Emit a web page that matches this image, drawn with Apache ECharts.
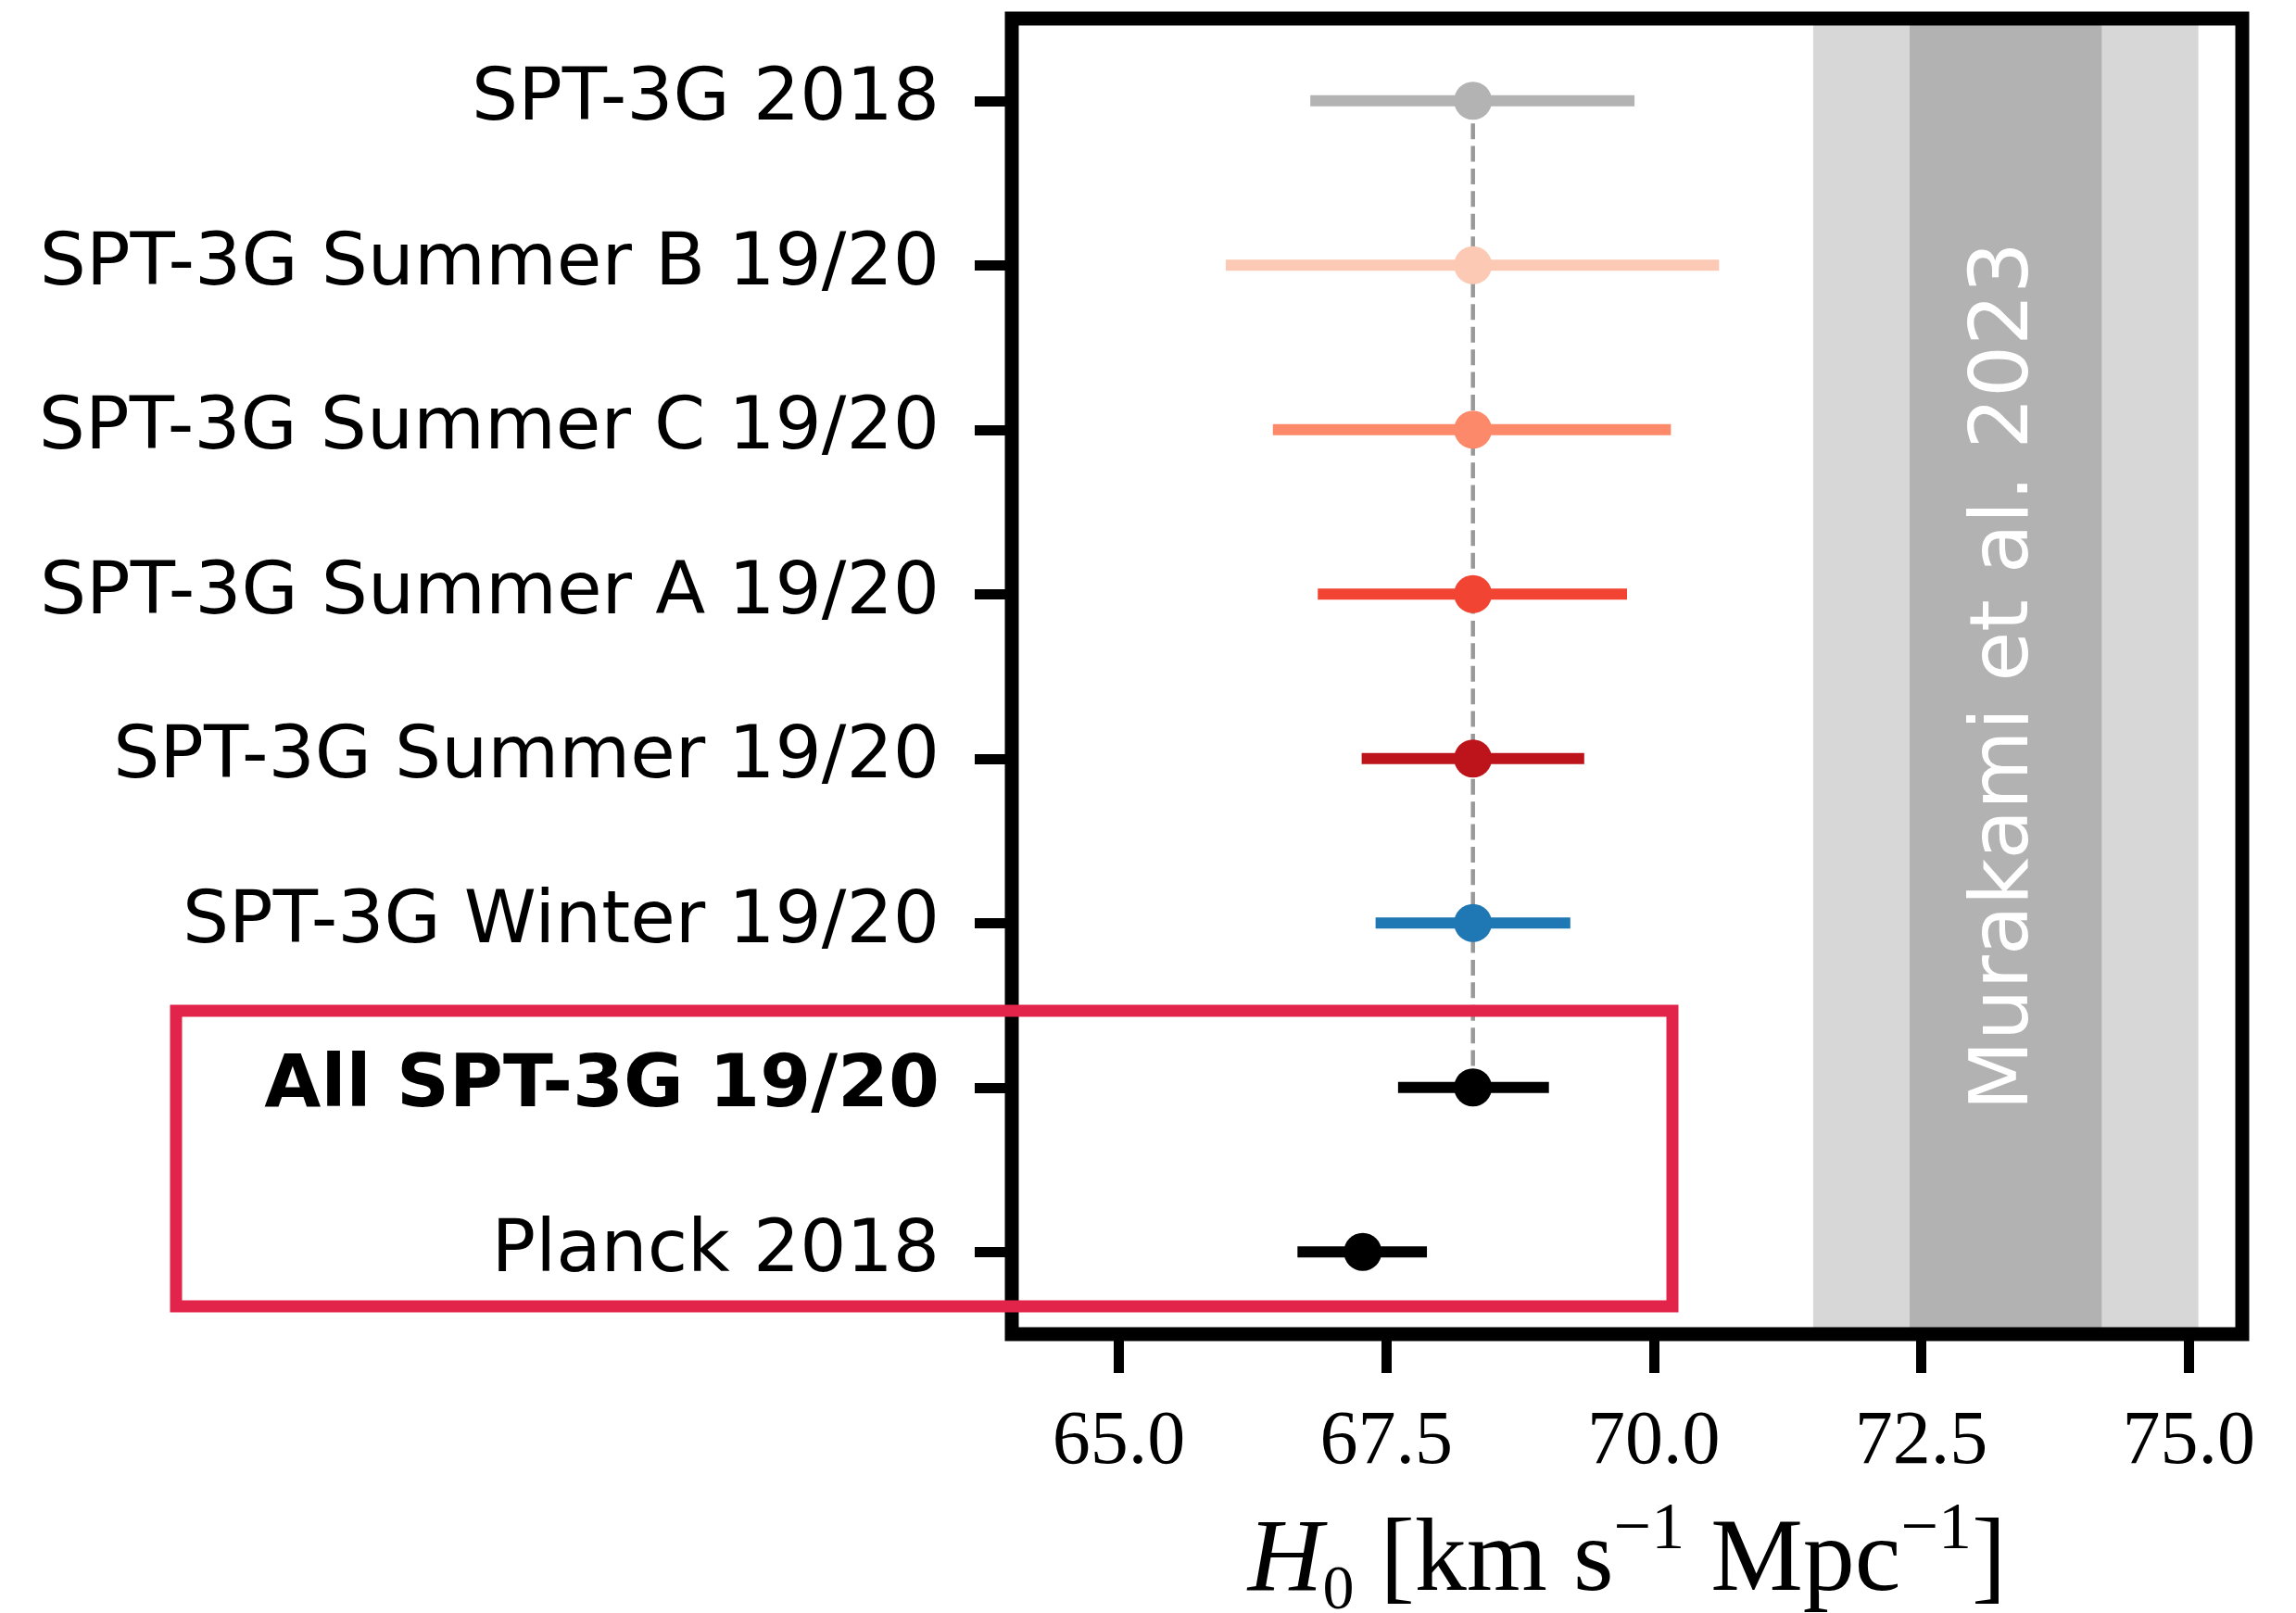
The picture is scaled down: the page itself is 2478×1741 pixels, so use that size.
<!DOCTYPE html>
<html>
<head>
<meta charset="utf-8">
<script src="https://cdn.jsdelivr.net/npm/echarts@6/dist/echarts.min.js"></script>
<style>html,body{margin:0;padding:0;background:#fff;}#c{width:2478px;height:1741px;}</style>
</head>
<body>
<div id="c"></div>
<script>
// ---- data ----
const categories = ['SPT-3G 2018', 'SPT-3G Summer B 19/20', 'SPT-3G Summer C 19/20', 'SPT-3G Summer A 19/20',
  'SPT-3G Summer 19/20', 'SPT-3G Winter 19/20', 'All SPT-3G 19/20', 'Planck 2018'];
const centers = [68.31, 68.31, 68.31, 68.31, 68.31, 68.31, 68.31, 67.28];
const lows    = [66.79, 66.00, 66.44, 66.86, 67.27, 67.40, 67.61, 66.67];
const highs   = [69.82, 70.61, 70.16, 69.75, 69.35, 69.22, 69.02, 67.88];
const colors  = ['#b3b3b3', '#fcc9b4', '#fc8a6a', '#f14432', '#bc141a', '#1f77b4', '#000000', '#000000'];
const boldCategory = 'All SPT-3G 19/20';
const refValue = 68.31;
const refFrom = 'SPT-3G 2018', refTo = 'All SPT-3G 19/20';
const murakamiInner = [72.39, 74.19];
const murakamiOuter = [71.49, 75.09];
const murakamiCenter = 73.29;
const murakamiLabel = 'Murakami et al. 2023';
const xTicks = [65, 67.5, 70, 72.5, 75];
const xMin = 64, xMax = 75.5;

// ---- layout ----
const W = 2478, H = 1741;
const G = {left: 1092, top: 20, right: 58, bottom: 301};

const chart = echarts.init(document.getElementById('c'), null, {renderer: 'canvas'});

const errData = categories.map((c, i) => [centers[i], lows[i], highs[i], c, i]);

const option = {
  backgroundColor: '#ffffff',
  animation: false,
  grid: {left: G.left, top: G.top, right: G.right, bottom: G.bottom, containLabel: false, outerBoundsMode: 'none'},
  xAxis: {
    type: 'value', min: xMin, max: xMax,
    axisLine: {show: false},
    splitLine: {show: false},
    axisTick: {show: true, length: 42, lineStyle: {color: '#000', width: 11}, customValues: xTicks},
    axisLabel: {
      show: true, margin: 76, customValues: xTicks,
      fontFamily: 'Liberation Serif', fontSize: 82, color: '#000',
      formatter: v => Number(v).toFixed(1)
    },
    name: '{it|H}{sub|0}{n| [km s}{sup|−1}{n| Mpc}{sup|−1}{n|]}',
    nameLocation: 'middle', nameGap: 172,
    nameTextStyle: {
      color: '#000', fontFamily: 'Liberation Serif', fontSize: 112,
      rich: {
        it: {fontFamily: 'Liberation Serif', fontStyle: 'italic', fontSize: 112, color: '#000', lineHeight: 150, verticalAlign: 'middle'},
        n: {fontFamily: 'Liberation Serif', fontSize: 112, color: '#000', lineHeight: 150, verticalAlign: 'middle'},
        sub: {fontFamily: 'Liberation Serif', fontSize: 68, color: '#000', verticalAlign: 'middle', lineHeight: 68, padding: [62, 0, 0, 0]},
        sup: {fontFamily: 'Liberation Serif', fontSize: 72, color: '#000', verticalAlign: 'middle', lineHeight: 72, padding: [0, 0, 70, 0]}
      }
    }
  },
  yAxis: {
    type: 'category', inverse: true,
    data: categories.map(c => c === boldCategory ? {value: c, textStyle: {fontWeight: 'bold'}} : c),
    axisLine: {show: false},
    splitLine: {show: false},
    axisTick: {show: true, alignWithLabel: true, length: 40, lineStyle: {color: '#000', width: 11}},
    axisLabel: {margin: 78, fontFamily: 'DejaVu Sans', fontSize: 79, color: '#000'}
  },
  series: [
    {
      type: 'line', z: 1, silent: true,
      data: [[refValue, refFrom], [refValue, refTo]],
      symbol: 'none',
      lineStyle: {color: '#999999', width: 4.5, type: [17, 7.4]},
      markArea: {
        silent: true,
        data: [
          [{xAxis: murakamiOuter[0], itemStyle: {color: '#d7d7d7'}}, {xAxis: murakamiInner[0]}],
          [{xAxis: murakamiInner[0], itemStyle: {color: '#b2b2b2'}}, {xAxis: murakamiInner[1]}],
          [{xAxis: murakamiInner[1], itemStyle: {color: '#d7d7d7'}}, {xAxis: murakamiOuter[1]}]
        ]
      }
    },
    {
      type: 'custom', z: 3, silent: true,
      encode: {x: [0, 1, 2], y: 3},
      data: errData,
      renderItem: function (params, api) {
        const yv = api.value(3);
        const pc = api.coord([api.value(0), yv]);
        const pl = api.coord([api.value(1), yv]);
        const ph = api.coord([api.value(2), yv]);
        const col = colors[api.value(4)];
        return {
          type: 'group',
          children: [
            {type: 'line', shape: {x1: pl[0], y1: pl[1], x2: ph[0], y2: ph[1]},
             style: {stroke: col, lineWidth: 12, lineCap: 'butt'}},
            {type: 'circle', shape: {cx: pc[0], cy: pc[1], r: 20.5}, style: {fill: col}}
          ]
        };
      }
    }
  ]
};
chart.setOption(option);

const px = chart.convertToPixel({xAxisIndex: 0}, murakamiCenter);
const gw = W - G.left - G.right, gh = H - G.top - G.bottom;
chart.setOption({
  graphic: [
    {type: 'text', x: px, y: G.top + gh / 2, rotation: Math.PI / 2, z: 50,
     style: {text: murakamiLabel, fill: '#ffffff', fontFamily: 'DejaVu Sans', fontSize: 88,
              align: 'center', verticalAlign: 'middle'}},
    {type: 'rect', z: 100, silent: true, shape: {x: G.left, y: G.top, width: gw, height: gh},
     style: {fill: 'none', stroke: '#000000', lineWidth: 15}},
    {type: 'rect', z: 200, silent: true, shape: {x: 190, y: 1091, width: 1615, height: 319},
     style: {fill: 'none', stroke: '#e2244b', lineWidth: 13}}
  ]
});
</script>
</body>
</html>
